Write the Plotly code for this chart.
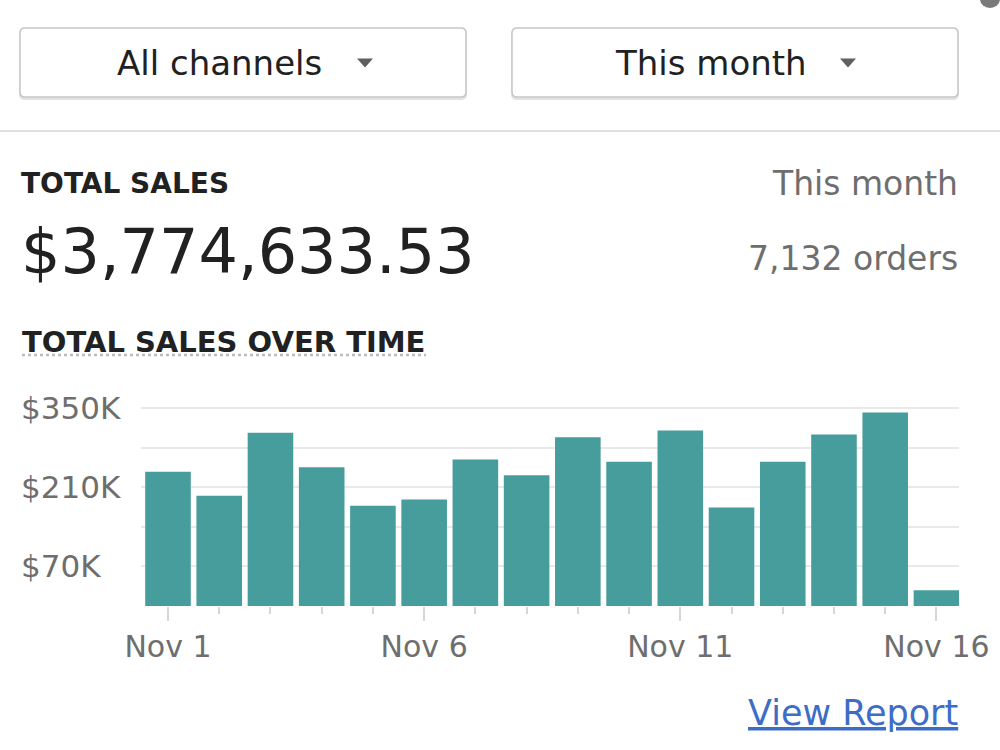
import plotly.graph_objects as go

# ---------------- data ----------------
dates = ["2023-11-%02d" % d for d in range(1, 17)]
sales = [237000, 195000, 306000, 245000, 177000, 188000, 259000, 231000,
         298000, 255000, 310000, 174000, 255000, 303000, 342000, 28000]
y_grid_vals = [0, 70000, 140000, 210000, 280000, 350000]
y_label_vals = [350000, 210000, 70000]
y_label_text = ["$350K", "$210K", "$70K"]
total_sales_text = "$3,774,633.53"
orders_text = "7,132 orders"
channel_filter = "All channels"
period_filter = "This month"

W, H = 1000, 750
FONT = "DejaVu Sans"
BAR = "#479d9b"
DARK = "#212121"
GRAY = "#6e6e6e"


def px(x):
    return x / W


def py(y):
    return 1 - y / H


fig = go.Figure()
fig.add_trace(go.Bar(x=dates, y=sales, marker=dict(color=BAR, line=dict(width=0)),
                     hoverinfo="skip"))

shapes = []


def rounded_rect(x0, y0, x1, y1, r=5, color="#c6c6c6", width=1.5, fill="white"):
    rx, ry = r / W, r / H
    a, b, c, d = px(x0), py(y0), px(x1), py(y1)  # b top, d bottom (paper)
    path = (f"M {a+rx},{b} L {c-rx},{b} Q {c},{b} {c},{b-ry} "
            f"L {c},{d+ry} Q {c},{d} {c-rx},{d} L {a+rx},{d} Q {a},{d} {a},{d+ry} "
            f"L {a},{b-ry} Q {a},{b} {a+rx},{b} Z")
    return dict(type="path", xref="paper", yref="paper", path=path,
                line=dict(color=color, width=width), fillcolor=fill, layer="below")


def triangle(cx, cy, w=16, h=9, color="#5f5f5f"):
    path = (f"M {px(cx-w/2)},{py(cy-h/2)} L {px(cx+w/2)},{py(cy-h/2)} "
            f"L {px(cx)},{py(cy+h/2)} Z")
    return dict(type="path", xref="paper", yref="paper", path=path,
                line=dict(width=0), fillcolor=color)


# dropdown boxes with a soft shadow
for (x0, x1) in [(20, 466), (512, 958)]:
    shapes.append(rounded_rect(x0, 29, x1, 99, color="#e2e2e2", width=2, fill="#e9e9e9"))
    shapes.append(rounded_rect(x0, 28, x1, 97))
shapes.append(triangle(365, 63))
shapes.append(triangle(848, 63))

# separator line
shapes.append(dict(type="line", xref="paper", yref="paper", x0=0, x1=1,
                   y0=py(131), y1=py(131), line=dict(color="#e0e0e0", width=2)))
# dotted underline of chart title
shapes.append(dict(type="line", xref="paper", yref="paper", x0=px(22), x1=px(426),
                   y0=py(355), y1=py(355), line=dict(color="#bdbdbd", width=2.5, dash="dot")))
# scrollbar dot top-right
shapes.append(dict(type="circle", xref="paper", yref="paper", x0=px(980), x1=px(1000),
                   y0=py(8), y1=py(-10), fillcolor="#7a7a7a", line=dict(width=0)))

annotations = [
    dict(text=channel_filter, x=px(219), y=py(63), font=dict(size=34, color=DARK, family=FONT)),
    dict(text=period_filter, x=px(711), y=py(63), font=dict(size=34, color=DARK, family=FONT)),
    dict(text="<b>TOTAL SALES</b>", x=px(19), y=py(184), xanchor="left",
         font=dict(size=28, color=DARK, family=FONT)),
    dict(text=period_filter, x=px(960), y=py(184), xanchor="right",
         font=dict(size=33, color=GRAY, family=FONT)),
    dict(text=total_sales_text, x=px(19), y=py(251), xanchor="left",
         font=dict(size=62, color=DARK, family=FONT)),
    dict(text=orders_text, x=px(960), y=py(259), xanchor="right",
         font=dict(size=33, color=GRAY, family=FONT)),
    dict(text="<b>TOTAL SALES OVER TIME</b>", x=px(20), y=py(342), xanchor="left",
         font=dict(size=29, color=DARK, family=FONT)),
    dict(text="<u>View Report</u>", x=px(960), y=py(713), xanchor="right",
         font=dict(size=35, color="#3d6dc6", family=FONT)),
]
for a in annotations:
    a.setdefault("xanchor", "center")
    a.update(xref="paper", yref="paper", yanchor="middle", showarrow=False)

# y tick labels: left aligned, positioned through the y scale
for v, t in zip(y_label_vals, y_label_text):
    annotations.append(dict(text=t, xref="paper", yref="y", x=px(19), y=v,
                            xanchor="left", yanchor="middle", showarrow=False,
                            font=dict(size=31, color=GRAY, family=FONT)))

DAY = 86400000
fig.update_layout(
    width=W, height=H, margin=dict(l=0, r=0, t=0, b=0, autoexpand=False),
    paper_bgcolor="white", plot_bgcolor="white",
    showlegend=False, bargap=0.11,
    shapes=shapes, annotations=annotations,
    font=dict(family=FONT),
    xaxis=dict(
        type="date", domain=[px(141), px(959)], automargin=False,
        range=["2023-10-31 11:21", "2023-11-16 10:34"],
        tick0="2023-11-01", dtick=5 * DAY, tickformat="%b %-d",
        ticks="outside", ticklen=14, tickwidth=2, tickcolor="#d6d6d6",
        tickfont=dict(size=30, color=GRAY, family=FONT),
        minor=dict(ticks="outside", dtick=DAY, tick0="2023-11-01", ticklen=7,
                   tickwidth=2, tickcolor="#d6d6d6", showgrid=False),
        showgrid=False, zeroline=False, showline=False, fixedrange=True,
    ),
    yaxis=dict(
        domain=[py(606), py(400)], range=[0, 364000], automargin=False,
        tickmode="array", tickvals=y_grid_vals, showticklabels=False,
        showgrid=True, gridcolor="#e9e9e9", gridwidth=1.5,
        zeroline=False, showline=False, fixedrange=True,
    ),
)

fig.write_html("out.html")
